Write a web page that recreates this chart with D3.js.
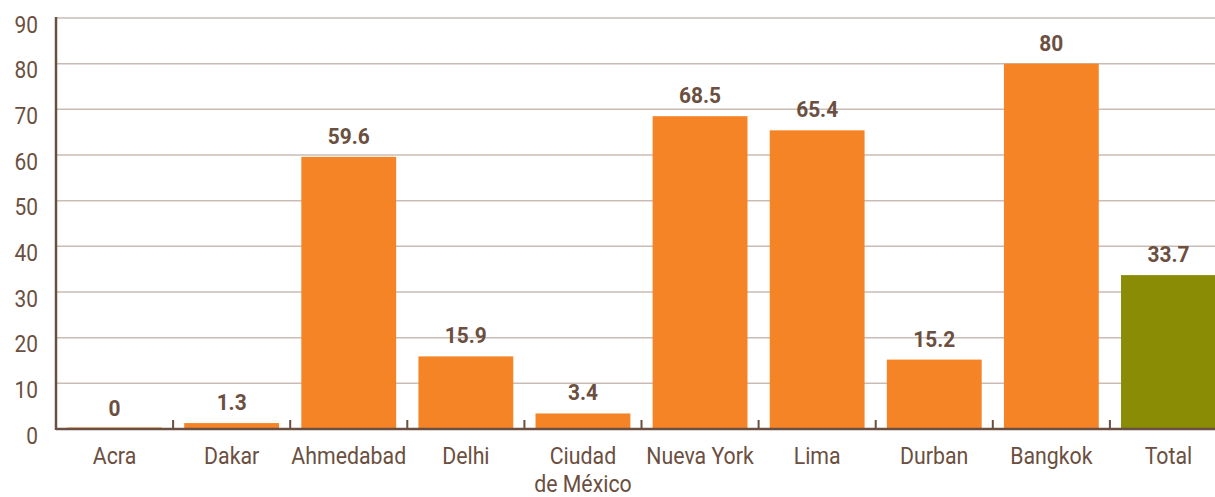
<!doctype html>
<html>
<head>
<meta charset="utf-8">
<script src="https://cdn.jsdelivr.net/npm/d3@7"></script>
<style>
  body { margin: 0; background: #fff; }
  svg { display: block; font-family: "Roboto", "Liberation Sans", sans-serif; }
</style>
</head>
<body>
<svg width="1215" height="497"></svg>
<script>
  // data
  const categories = ["Acra", "Dakar", "Ahmedabad", "Delhi", "Ciudad\nde México", "Nueva York", "Lima", "Durban", "Bangkok", "Total"];
  const values = [0, 1.3, 59.6, 15.9, 3.4, 68.5, 65.4, 15.2, 80, 33.7];
  const yTicks = [0, 10, 20, 30, 40, 50, 60, 70, 80, 90];

  const textColor = "#6b4f40";
  const gridColor = "#c9bcb4";
  const orange = "#f58427";
  const green = "#8a8c05";
  const squeeze = 0.87; // condensed look

  const svg = d3.select("svg");
  const plotLeft = 56, plotRight = 1227, plotTop = 18, plotBottom = 429;

  const x = d3.scaleBand()
    .domain(categories)
    .range([plotLeft, plotRight])
    .paddingInner(0.19)
    .paddingOuter(0.095);

  const y = d3.scaleLinear()
    .domain([0, 90])
    .range([plotBottom, plotTop]);

  // gridlines
  svg.append("g")
    .selectAll("line")
    .data(yTicks.filter(d => d > 0))
    .join("line")
    .attr("x1", plotLeft)
    .attr("x2", 1215)
    .attr("y1", d => y(d))
    .attr("y2", d => y(d))
    .attr("stroke", gridColor)
    .attr("stroke-width", 1.5);

  // y labels
  svg.append("g")
    .selectAll("text")
    .data(yTicks)
    .join("text")
    .attr("transform", d => `translate(38,${y(d) + 14.5}) scale(${squeeze},1)`)
    .attr("text-anchor", "end")
    .attr("fill", textColor)
    .attr("font-size", 24)
    .text(d => d);

  // bars
  svg.append("g")
    .selectAll("rect")
    .data(values)
    .join("rect")
    .attr("x", (d, i) => x(categories[i]))
    .attr("width", x.bandwidth())
    .attr("y", d => y(d) - (d === 0 ? 1.5 : 0))
    .attr("height", d => y(0) - y(d) + (d === 0 ? 1.5 : 0))
    .attr("fill", (d, i) => i === categories.length - 1 ? green : orange);

  // value labels
  svg.append("g")
    .selectAll("text")
    .data(values)
    .join("text")
    .attr("transform", (d, i) => `translate(${x(categories[i]) + x.bandwidth() / 2},${y(d) - 13}) scale(0.95,1)`)
    .attr("text-anchor", "middle")
    .attr("fill", textColor)
    .attr("font-size", 22)
    .attr("font-weight", "bold")
    .text(d => d);

  // axes lines
  svg.append("line")
    .attr("x1", plotLeft).attr("x2", plotLeft)
    .attr("y1", plotTop - 1).attr("y2", plotBottom + 1)
    .attr("stroke", textColor)
    .attr("stroke-width", 2.5);

  svg.append("line")
    .attr("x1", plotLeft).attr("x2", 1215)
    .attr("y1", plotBottom).attr("y2", plotBottom)
    .attr("stroke", textColor)
    .attr("stroke-width", 2.5);

  // x ticks between bands
  const step = x.step();
  svg.append("g")
    .selectAll("line")
    .data(categories.slice(1))
    .join("line")
    .attr("x1", d => x(d) - step * 0.095)
    .attr("x2", d => x(d) - step * 0.095)
    .attr("y1", plotBottom)
    .attr("y2", plotBottom - 9)
    .attr("stroke", textColor)
    .attr("stroke-width", 2);

  // category labels
  svg.append("g")
    .selectAll("text")
    .data(categories)
    .join("text")
    .attr("transform", d => `translate(${x(d) + x.bandwidth() / 2},464) scale(${squeeze},1)`)
    .attr("text-anchor", "middle")
    .attr("fill", textColor)
    .attr("font-size", 24.5)
    .each(function(d) {
      const lines = d.split("\n");
      d3.select(this).selectAll("tspan")
        .data(lines)
        .join("tspan")
        .attr("x", 0)
        .attr("dy", (l, i) => i === 0 ? 0 : 28)
        .text(l => l);
    });
</script>
</body>
</html>
